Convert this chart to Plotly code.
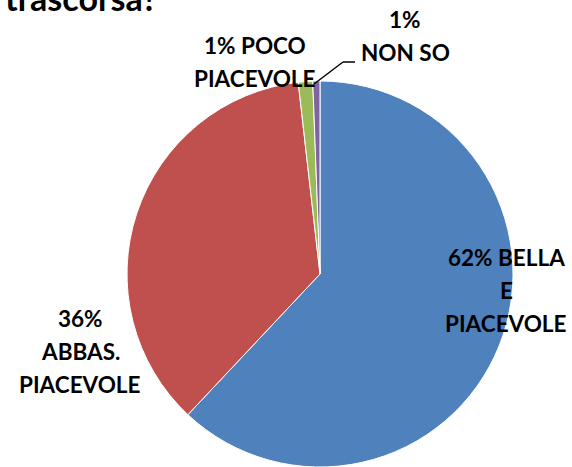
import plotly.graph_objects as go

categories = ["BELLA E PIACEVOLE", "ABBAS. PIACEVOLE", "POCO PIACEVOLE", "NON SO"]
values = [62, 36.2, 1.2, 0.6]
label_lines = [
    ["62% BELLA", "E", "PIACEVOLE"],
    ["36%", "ABBAS.", "PIACEVOLE"],
    ["1% POCO", "PIACEVOLE"],
    ["1%", "NON SO"],
]
colors = ["#4F81BD", "#C0504D", "#9BBB59", "#8064A2"]
title_text = "trascorsa?"

W, H = 572, 467
cx, cy, r = 320, 274, 193

fig = go.Figure(go.Pie(
    labels=categories, values=values, sort=False, direction="clockwise",
    rotation=0, textinfo="none", hoverinfo="label+percent",
    marker=dict(colors=colors, line=dict(color="white", width=1)),
    domain=dict(x=[(cx - r) / W, (cx + r) / W], y=[max(0, (H - cy - r) / H), (H - cy + r) / H]),
    showlegend=False,
))

label_pos = [(506, 257), (80, 318), (255, 46), (405, 20)]
spacing = 33
font = dict(family="Lato", size=22.5, color="black")
anns = []
for lines, (px, py) in zip(label_lines, label_pos):
    for i, t in enumerate(lines):
        y = py + i * spacing
        anns.append(dict(text="<b>%s</b>" % t, x=px / W, y=1 - y / H, xref="paper", yref="paper",
                         xanchor="center", yanchor="middle", showarrow=False, font=font))

anns.append(dict(text="<b>%s</b>" % title_text, x=0, y=1 - 20 / H, xref="paper", yref="paper",
                 xanchor="left", yanchor="bottom", showarrow=False,
                 font=dict(family="Lato", size=34, color="black"), xshift=3))

pts = [(355, 62), (343, 62), (314, 84)]
shapes = []
for (x0, y0), (x1, y1) in zip(pts[:-1], pts[1:]):
    shapes.append(dict(type="line", xref="paper", yref="paper", x0=x0 / W, y0=1 - y0 / H,
                       x1=x1 / W, y1=1 - y1 / H, line=dict(color="black", width=1.5)))

fig.update_layout(width=W, height=H, margin=dict(l=0, r=0, t=0, b=0),
                  paper_bgcolor="white", plot_bgcolor="white",
                  annotations=anns, shapes=shapes)
fig.write_html("out.html", config={"displayModeBar": False},
               post_script="document.body.style.margin='0';document.body.style.overflow='hidden';")
